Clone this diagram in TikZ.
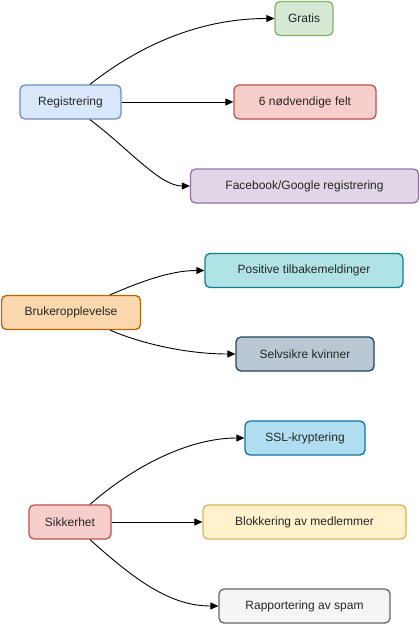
\documentclass[tikz,border=0pt]{standalone}
\usepackage{fontspec}
\setmainfont{Liberation Sans}
\usetikzlibrary{arrows.meta}
\definecolor{gfill}{HTML}{D5E8D4}\definecolor{gdraw}{HTML}{82B366}
\definecolor{bfill}{HTML}{DAE8FC}\definecolor{bdraw}{HTML}{6C8EBF}
\definecolor{rfill}{HTML}{F8CECC}\definecolor{rdraw}{HTML}{B85450}
\definecolor{pfill}{HTML}{E1D5E7}\definecolor{pdraw}{HTML}{9673A6}
\definecolor{tfill}{HTML}{B0E3E6}\definecolor{tdraw}{HTML}{0E8088}
\definecolor{ofill}{HTML}{FAD7AC}\definecolor{odraw}{HTML}{B46504}
\definecolor{sfill}{HTML}{BAC8D3}\definecolor{sdraw}{HTML}{23445D}
\definecolor{cfill}{HTML}{B1DDF0}\definecolor{cdraw}{HTML}{10739E}
\definecolor{yfill}{HTML}{FFF2CC}\definecolor{ydraw}{HTML}{D6B656}
\definecolor{afill}{HTML}{F5F5F5}\definecolor{adraw}{HTML}{666666}
\tikzset{
  box/.style={rectangle, rounded corners=5pt, line width=1.3pt, inner sep=0pt,
    minimum height=34pt, font=\fontsize{12}{14}\selectfont, text=black!85},
  conn/.style={line width=0.9pt, -{Triangle[length=8pt,width=7pt]}},
}
\begin{document}
\begin{tikzpicture}[x=1pt,y=-1pt]
\useasboundingbox (0,0) rectangle (420,624);
% group 1
\node[box, fill=gfill, draw=gdraw, minimum width=58pt] (gratis) at (304,18.5) {Gratis};
\node[box, fill=bfill, draw=bdraw, minimum width=101pt] (reg) at (70.5,102) {Registrering};
\node[box, fill=rfill, draw=rdraw, minimum width=142pt] (felt) at (305,102) {6 nødvendige felt};
\node[box, fill=pfill, draw=pdraw, minimum width=228pt] (fb) at (304.5,186) {Facebook/Google registrering};
% group 2
\node[box, fill=tfill, draw=tdraw, minimum width=198pt] (pos) at (304,270.5) {Positive tilbakemeldinger};
\node[box, fill=ofill, draw=odraw, minimum width=139pt] (bruk) at (71,312.5) {Brukeropplevelse};
\node[box, fill=sfill, draw=sdraw, minimum width=138pt] (selv) at (305,354) {Selvsikre kvinner};
% group 3
\node[box, fill=cfill, draw=cdraw, minimum width=120pt] (ssl) at (305,438) {SSL-kryptering};
\node[box, fill=rfill, draw=rdraw, minimum width=82pt] (sik) at (70,522) {Sikkerhet};
\node[box, fill=yfill, draw=ydraw, minimum width=203pt] (blokk) at (304.5,522) {Blokkering av medlemmer};
\node[box, fill=afill, draw=adraw, minimum width=171pt] (rapp) at (304.5,606) {Rapportering av spam};
% connectors
\draw[conn] ([xshift=19.5pt]reg.north) .. controls (140,45) and (200,18.5) .. (gratis.west);
\draw[conn] (reg.east) -- (felt.west);
\draw[conn] ([xshift=19.5pt]reg.south) .. controls (130,150) and (160,186) .. (fb.west);
\draw[conn] ([xshift=39pt]bruk.north) .. controls (140,282) and (170,270.5) .. (pos.west);
\draw[conn] ([xshift=39pt]bruk.south) .. controls (145,345) and (190,354) .. (selv.west);
\draw[conn] ([xshift=20pt]sik.north) .. controls (135,465) and (190,438) .. (ssl.west);
\draw[conn] (sik.east) -- (blokk.west);
\draw[conn] ([xshift=20pt]sik.south) .. controls (135,580) and (170,606) .. (rapp.west);
\end{tikzpicture}
\end{document}
